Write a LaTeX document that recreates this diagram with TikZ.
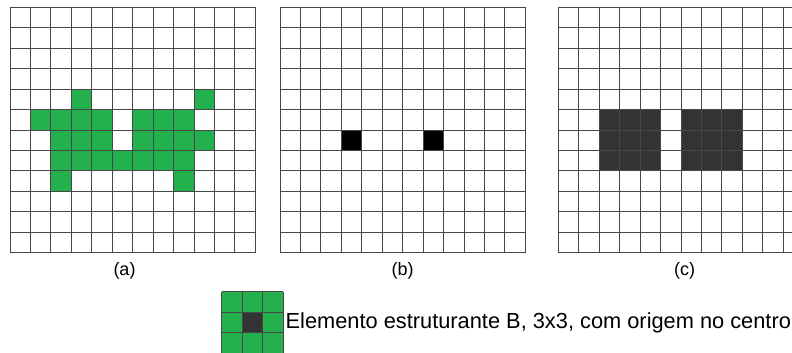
\documentclass[tikz,border=0pt]{standalone}
\usepackage{fontspec}
\setmainfont{Liberation Sans}
\usepackage{tikz}

\definecolor{cellgreen}{RGB}{34,177,76}
\definecolor{celldark}{RGB}{51,51,51}
\tikzset{
  gridline/.style={draw=black!72, line width=1pt},
  sublabel/.style={font=\fontsize{18}{20}\selectfont, inner sep=0pt},
}

\begin{document}
\begin{tikzpicture}[x=1pt,y=-1pt]
\useasboundingbox (0,0) rectangle (792,353);
\clip (0,0) rectangle (792,353);
% (a) original image
\begin{scope}[shift={(10,7.3)}, x=20.45pt, y=-20.45pt]
\foreach \c/\r in {3/4,9/4,1/5,2/5,3/5,4/5,6/5,7/5,8/5,2/6,3/6,4/6,6/6,7/6,8/6,9/6,
                   2/7,3/7,4/7,5/7,6/7,7/7,8/7,2/8,8/8}
  \fill[cellgreen] (\c,\r) rectangle ++(1,1);
\foreach \i in {0,...,12} {
  \draw[gridline] (\i,0) -- (\i,12);
  \draw[gridline] (0,\i) -- (12,\i);
}
\end{scope}
% (b) erosion
\begin{scope}[shift={(280,7.3)}, x=20.45pt, y=-20.45pt]
\foreach \c/\r in {3/6,7/6}
  \fill[black] (\c,\r) rectangle ++(1,1);
\foreach \i in {0,...,12} {
  \draw[gridline] (\i,0) -- (\i,12);
  \draw[gridline] (0,\i) -- (12,\i);
}
\end{scope}
% (c) dilation of (b)
\begin{scope}[shift={(558.3,7.3)}, x=20.45pt, y=-20.45pt]
\fill[celldark] (2,5) rectangle (5,8);
\fill[celldark] (6,5) rectangle (9,8);
\foreach \i in {0,...,12} {
  \draw[gridline] (\i,0) -- (\i,12);
  \draw[gridline] (0,\i) -- (12,\i);
}
\end{scope}
\node[sublabel] (labela) at (124.5,270.5) {(a)};
\node[sublabel] (labelb) at (402.5,270.5) {(b)};
\node[sublabel] (labelc) at (684.5,271) {(c)};
% structuring element
\begin{scope}[shift={(221.7,291.7)}, x=20.5pt, y=-20.5pt]
\fill[cellgreen] (0,0) rectangle (3,3);
\fill[celldark] (1,1) rectangle (2,2);
\foreach \i in {0,...,3} {
  \draw[gridline] (\i,0) -- (\i,3);
  \draw[gridline] (0,\i) -- (3,\i);
}
\end{scope}
\node[anchor=base west, inner sep=0pt, font=\fontsize{21.8}{24}\selectfont] (caption) at (285.5,328)
  {Elemento estruturante B, 3x3, com origem no centro};
\end{tikzpicture}
\end{document}
